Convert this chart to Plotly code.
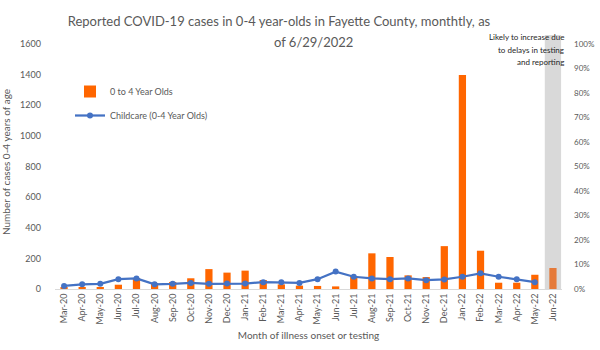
import plotly.graph_objects as go

months = ["Mar-20", "Apr-20", "May-20", "Jun-20", "Jul-20", "Aug-20", "Sep-20", "Oct-20",
          "Nov-20", "Dec-20", "Jan-21", "Feb-21", "Mar-21", "Apr-21", "May-21", "Jun-21",
          "Jul-21", "Aug-21", "Sep-21", "Oct-21", "Nov-21", "Dec-21", "Jan-22", "Feb-22",
          "Mar-22", "Apr-22", "May-22", "Jun-22"]
cases_0_4 = [8, 8, 13, 28, 72, 39, 46, 70, 130, 107, 120, 59, 30, 22, 20, 17,
             85, 233, 209, 89, 78, 280, 1398, 250, 41, 41, 93, 137]
childcare_pct = [0.0125, 0.019, 0.021, 0.040, 0.043, 0.019, 0.021, 0.025, 0.021, 0.022,
                 0.022, 0.028, 0.028, 0.025, 0.040, 0.071, 0.050, 0.043, 0.040, 0.043,
                 0.036, 0.039, 0.050, 0.064, 0.050, 0.040, 0.028, None]
pending_month = "Jun-22"
note_lines = ["Likely to increase due", "to delays in testing", "and reporting"]
left_ticks = [0, 200, 400, 600, 800, 1000, 1200, 1400, 1600]
right_ticks = [0, 0.1, 0.2, 0.3, 0.4, 0.5, 0.6, 0.7, 0.8, 0.9, 1.0]

ORANGE = "#FF6600"
MUTED = "#E57A3A"
BLUE = "#4472C4"
GREY_TXT = "#595959"
FONT = "Lato"

bar_colors = [MUTED if m == pending_month else ORANGE for m in months]

LEFT_MAX = 1659
RIGHT_MAX = LEFT_MAX / 1600

fig = go.Figure()
fig.add_trace(go.Bar(
    x=months, y=cases_0_4, name="0 to 4 Year Olds",
    marker=dict(color=bar_colors, line=dict(width=0)),
    width=0.4, legendgroup="a", yaxis="y",
))
fig.add_trace(go.Scatter(
    x=months, y=childcare_pct, name="Childcare (0-4 Year Olds)",
    mode="lines+markers", line=dict(color=BLUE, width=2.25),
    marker=dict(color=BLUE, size=6), legendgroup="b", yaxis="y2",
))

fig.add_shape(type="rect", xref="x", yref="paper",
              x0=pending_month, x1=pending_month, x0shift=-0.45, x1shift=0.45,
              y0=0, y1=1, fillcolor="#D9D9D9", line=dict(width=0), layer="below")

annotations = [
    dict(text="of 6/29/2022", xref="paper", yref="paper",
         x=(313 - 55) / 507, y=(289 - 42) / 254, xanchor="center", yanchor="middle",
         showarrow=False, font=dict(family=FONT, size=13, color=GREY_TXT)),
]
for i, line in enumerate(note_lines):
    annotations.append(dict(
        text=line, xref="paper", yref="paper", x=(566 - 55) / 507,
        y=(289 - (37 + 12.5 * i)) / 254, xanchor="right", yanchor="middle",
        showarrow=False, font=dict(family=FONT, size=8, color="#262626")))

fig.update_layout(
    width=600, height=350,
    margin=dict(l=55, r=38, t=35, b=61),
    paper_bgcolor="white", plot_bgcolor="white",
    font=dict(family=FONT, color=GREY_TXT, size=9),
    title=dict(text="Reported COVID-19 cases in 0-4 year-olds in Fayette County, monthtly, as",
               x=279 / 600, xanchor="center", y=1 - 21 / 350, yanchor="middle",
               font=dict(family=FONT, size=13, color=GREY_TXT)),
    showlegend=True,
    legend=dict(x=(70 - 55) / 507, y=(289 - 77) / 254, xanchor="left", yanchor="top",
                bgcolor="rgba(0,0,0,0)", font=dict(size=9, color=GREY_TXT),
                tracegroupgap=5, traceorder="grouped", itemwidth=30),
    bargap=0.5,
    xaxis=dict(type="category", categoryorder="array", categoryarray=months,
               range=[-0.5, len(months) - 0.5],
               tickangle=-90, showline=True, linecolor="#D9D9D9", linewidth=1,
               showgrid=False, ticks="", tickfont=dict(size=9, color=GREY_TXT),
               automargin=False,
               title=dict(text="Month of illness onset or testing", standoff=8,
                          font=dict(size=10, color=GREY_TXT))),
    yaxis=dict(range=[0, LEFT_MAX], tickvals=left_ticks, showgrid=False, zeroline=False,
               showline=False, ticks="", tickfont=dict(size=9, color=GREY_TXT),
               ticklabelstandoff=13, automargin=False,
               title=dict(text="Number of cases 0-4 years of age", standoff=10,
                          font=dict(size=10, color=GREY_TXT))),
    yaxis2=dict(range=[0, RIGHT_MAX], tickvals=right_ticks, tickformat=".0%",
                overlaying="y", side="right", showgrid=False, zeroline=False,
                showline=False, ticks="", tickfont=dict(size=8, color=GREY_TXT),
                ticklabelstandoff=11, automargin=False),
    annotations=annotations,
)

fig.write_html("out.html")
